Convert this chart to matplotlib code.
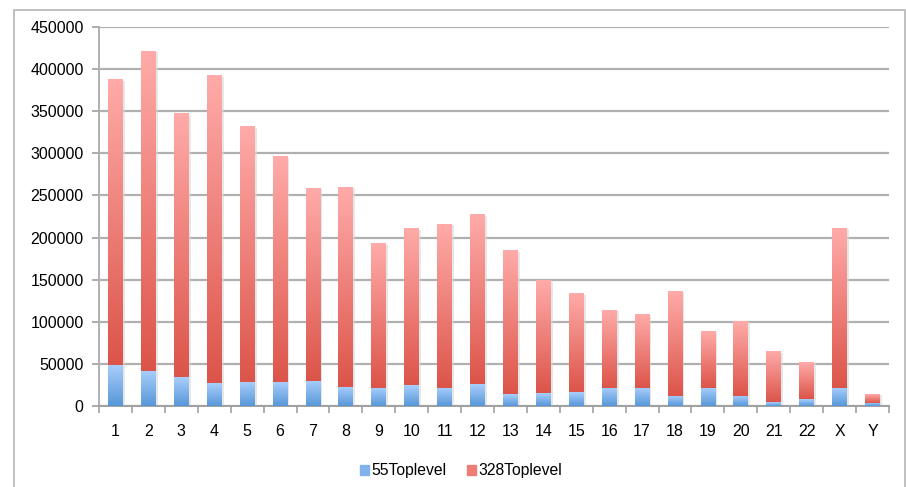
import numpy as np
import matplotlib.pyplot as plt
from matplotlib.colors import LinearSegmentedColormap
from matplotlib.patches import Rectangle

plt.rcParams['font.family'] = ['Liberation Sans', 'DejaVu Sans']

# ===================== data =====================
categories = [str(i) for i in range(1, 23)] + ["X", "Y"]
top55 = [48700, 42000, 34400, 27300, 28500, 28500, 29700, 22600, 21400, 24900, 21400, 26100,
         14200, 15400, 16600, 21400, 21400, 11900, 21400, 11900, 4700, 8300, 21400, 3600]
totals = [387900, 421500, 346700, 391800, 331300, 295700, 258800, 260000, 192400, 210200, 216100, 226800,
          184000, 148400, 133000, 114000, 109200, 135400, 87900, 100900, 64100, 52200, 211300, 14200]
top328 = [t - b for t, b in zip(totals, top55)]
series_names = ["55Toplevel", "328Toplevel"]
yticks = np.arange(0, 450001, 50000)

# ===================== style =====================
blue_cmap = LinearSegmentedColormap.from_list("b", ["#5797d8", "#a9cffc"])
red_cmap = LinearSegmentedColormap.from_list("r", ["#dc5449", "#ffaba9"])
grad = np.linspace(0, 1, 256).reshape(-1, 1)
bar_w = 0.45

fig = plt.figure(figsize=(9.06, 4.87), dpi=100)
ax = fig.add_axes([0.1093, 0.1663, 0.9812 - 0.1093, 0.9446 - 0.1663])

# outer chart frame
fig.patches.append(Rectangle((14 / 906, -0.05), (905 - 14) / 906, 1 - 10 / 487 + 0.05,
                             transform=fig.transFigure, fill=False, edgecolor='#b5b5b5', lw=1.2))

x = np.arange(len(categories))
for i in x:
    segs = [(0, top55[i], blue_cmap), (top55[i], top55[i] + top328[i], red_cmap)]
    # soft shadow
    ax.add_patch(Rectangle((i - bar_w / 2 + 0.06, 0), bar_w, totals[i] - 1500,
                           color='#d8d8d8', alpha=0.6, zorder=2, lw=0))
    for lo, hi, cm in segs:
        ax.imshow(grad, cmap=cm, origin='lower', aspect='auto', zorder=3,
                  extent=[i - bar_w / 2, i + bar_w / 2, lo, hi], interpolation='bilinear')

ax.set_xlim(-0.5, len(categories) - 0.5)
ax.set_ylim(0, 450000)
ax.set_yticks(yticks)
ax.set_yticklabels([str(v) for v in yticks], fontsize=11.5)
ax.set_xticks(x)
ax.set_xticklabels(categories, fontsize=11.5)
ax.set_xticks(np.arange(-0.5, len(categories)), minor=True)
ax.tick_params(axis='x', which='major', length=0, pad=13)
ax.tick_params(axis='x', which='minor', length=5, color='#a0a0a0', width=1.2)
ax.tick_params(axis='y', length=5, color='#a0a0a0', width=1.2, pad=6)
ax.yaxis.grid(True, color='#b0b0b0', lw=1.6, zorder=1)
ax.set_axisbelow(True)
for s in ['top', 'right']:
    ax.spines[s].set_visible(False)
ax.spines['left'].set_color('#b0b0b0')
ax.spines['left'].set_linewidth(1.4)
ax.spines['bottom'].set_color('#a0a0a0')
ax.spines['bottom'].set_linewidth(1.4)

# legend
h1 = Rectangle((0, 0), 1, 1, color='#7fb3ea')
h2 = Rectangle((0, 0), 1, 1, color='#ee7d76')
fig.legend([h1, h2], series_names, loc='center', bbox_to_anchor=(0.509, 0.033), ncol=2,
           frameon=False, fontsize=11.3, handlelength=0.6, handleheight=0.6,
           handletextpad=0.15, columnspacing=1.3)

fig.savefig("out.png", dpi=100)
